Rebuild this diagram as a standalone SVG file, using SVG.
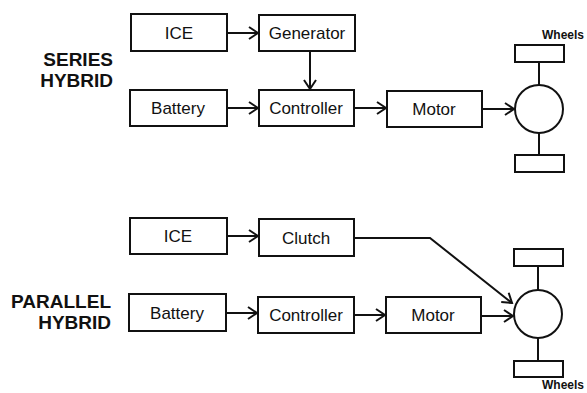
<svg xmlns="http://www.w3.org/2000/svg" width="587" height="393" viewBox="0 0 587 393">
<style>
.box{fill:#fff;stroke:#111;stroke-width:2}
.lbl{font-family:"Liberation Sans",Arial,sans-serif;font-size:17px;fill:#111;text-anchor:middle}
.title{font-family:"Liberation Sans",Arial,sans-serif;font-size:19px;font-weight:bold;fill:#111;text-anchor:end}
.wh{font-family:"Liberation Sans",Arial,sans-serif;font-size:12px;font-weight:bold;fill:#111}
.conn{fill:none;stroke:#111;stroke-width:2}
</style>
<defs>
<marker id="arr" markerUnits="userSpaceOnUse" markerWidth="14" markerHeight="16" refX="10" refY="7" orient="auto">
<path d="M1,1 L10,7 L1,13" fill="none" stroke="#111" stroke-width="2"/>
</marker>
</defs>
<rect width="587" height="393" fill="#fff"/>
<g id="titles">
<text class="title" x="113" y="66">SERIES</text>
<text class="title" x="113" y="87">HYBRID</text>
<text class="title" x="111" y="308">PARALLEL</text>
<text class="title" x="111" y="329">HYBRID</text>
</g>
<g id="s-ice"><rect class="box" x="131" y="14" width="96" height="37"/><text class="lbl" x="179" y="39">ICE</text></g>
<g id="s-generator"><rect class="box" x="259" y="15" width="96" height="36"/><text class="lbl" x="307" y="39">Generator</text></g>
<g id="s-battery"><rect class="box" x="130" y="90" width="97" height="36"/><text class="lbl" x="178" y="114">Battery</text></g>
<g id="s-controller"><rect class="box" x="259" y="90" width="95" height="36"/><text class="lbl" x="306" y="114">Controller</text></g>
<g id="s-motor"><rect class="box" x="387" y="91" width="95" height="36"/><text class="lbl" x="434" y="115">Motor</text></g>
<g id="s-wheels">
<rect class="box" x="515" y="45" width="49" height="17"/>
<rect class="box" x="515" y="155" width="49" height="17"/>
<line class="conn" x1="539" y1="62" x2="539" y2="85"/>
<line class="conn" x1="539" y1="133" x2="539" y2="155"/>
<circle class="box" cx="539" cy="109" r="24"/>
<text class="wh" x="542" y="39">Wheels</text>
</g>
<g id="p-ice"><rect class="box" x="130" y="218" width="97" height="36"/><text class="lbl" x="178" y="242">ICE</text></g>
<g id="p-clutch"><rect class="box" x="259" y="219" width="95" height="37"/><text class="lbl" x="306" y="244">Clutch</text></g>
<g id="p-battery"><rect class="box" x="129" y="294" width="97" height="37"/><text class="lbl" x="177" y="319">Battery</text></g>
<g id="p-controller"><rect class="box" x="258" y="297" width="96" height="36"/><text class="lbl" x="306" y="321">Controller</text></g>
<g id="p-motor"><rect class="box" x="386" y="297" width="95" height="36"/><text class="lbl" x="433" y="321">Motor</text></g>
<g id="p-wheels">
<rect class="box" x="514" y="249" width="49" height="17"/>
<rect class="box" x="514" y="361" width="49" height="16"/>
<line class="conn" x1="538" y1="266" x2="538" y2="290"/>
<line class="conn" x1="538" y1="338" x2="538" y2="361"/>
<circle class="box" cx="538" cy="314" r="24"/>
<text class="wh" x="542" y="389">Wheels</text>
</g>
<g id="connectors">
<line class="conn" x1="227" y1="33" x2="258" y2="33" marker-end="url(#arr)"/>
<line class="conn" x1="310" y1="51" x2="310" y2="89" marker-end="url(#arr)"/>
<line class="conn" x1="227" y1="108" x2="258" y2="108" marker-end="url(#arr)"/>
<line class="conn" x1="354" y1="108" x2="386" y2="108" marker-end="url(#arr)"/>
<line class="conn" x1="482" y1="109" x2="514" y2="109" marker-end="url(#arr)"/>
<line class="conn" x1="227" y1="236" x2="258" y2="236" marker-end="url(#arr)"/>
<polyline class="conn" points="354,238 430,238 512,303" marker-end="url(#arr)"/>
<line class="conn" x1="226" y1="313" x2="257" y2="313" marker-end="url(#arr)"/>
<line class="conn" x1="354" y1="315" x2="385" y2="315" marker-end="url(#arr)"/>
<line class="conn" x1="481" y1="316" x2="513" y2="316" marker-end="url(#arr)"/>
</g>
</svg>
